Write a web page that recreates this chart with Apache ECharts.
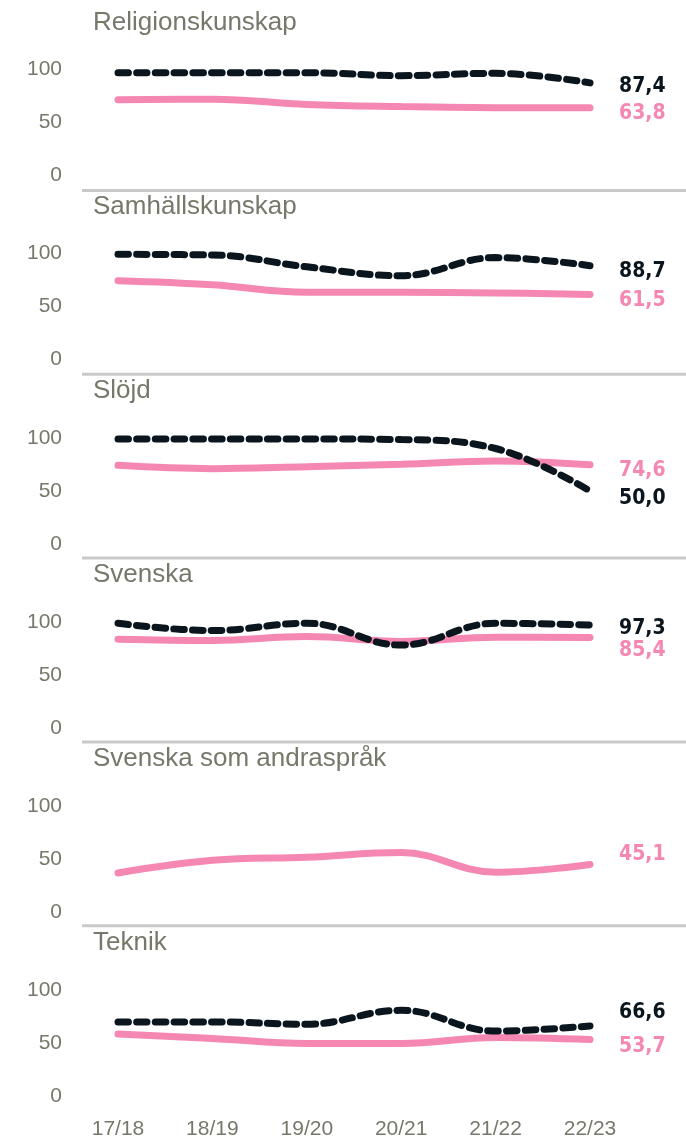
<!DOCTYPE html>
<html>
<head>
<meta charset="utf-8">
<script src="https://cdn.jsdelivr.net/npm/echarts@6/dist/echarts.min.js"></script>
<style>
  html, body { margin: 0; padding: 0; background: #fff; }
  #main { width: 686px; height: 1140px; }
</style>
</head>
<body>
<div id="main"></div>
<script>
// läsår på x-axeln
const years = ['17/18', '18/19', '19/20', '20/21', '21/22', '22/23'];
const subjects = ['Religionskunskap', 'Samhällskunskap', 'Slöjd', 'Svenska', 'Svenska som andraspråk', 'Teknik'];

// rosa linje (heldragen)
const religionPink = [71.5, 72, 67, 65, 64, 63.8];
const samhallPink = [74.5, 70.7, 63.6, 63.6, 63, 61.5];
const slojdPink = [74.1, 71, 72.9, 75.1, 78.2, 74.6];
const svenskaPink = [83.9, 82.7, 86.4, 81.8, 85.8, 85.4];
const svaPink = [37.1, 49, 52, 56.4, 37.8, 45.1];
const teknikPink = [58.9, 54.8, 50.1, 50.1, 55.7, 53.7];

// svart linje (streckad)
const religionBlack = [97, 97, 97, 94.2, 96.4, 87.4];
const samhallBlack = [99.4, 98.8, 87.6, 79.2, 96.3, 88.7];
const slojdBlack = [99, 99, 99, 98.4, 90, 50.0];
const svenskaBlack = [98.9, 92, 98.9, 78.3, 98.9, 97.3];
const svaBlack = [];
const teknikBlack = [70.4, 70.4, 68.2, 81.3, 61.7, 66.6];

const pinkRows = [religionPink, samhallPink, slojdPink, svenskaPink, svaPink, teknikPink];
const blackRows = [religionBlack, samhallBlack, slojdBlack, svenskaBlack, svaBlack, teknikBlack];

/**
 * layout
 */
const PANEL_STEP = 184.2;
const PINK = '#f588b2';
const BLACK = '#0a151e';
const GREY_TEXT = '#76786a';
const FONT = '"Liberation Sans", Arial, sans-serif';
const LABEL_FONT = '"DejaVu Sans Condensed", sans-serif';
// flytta slutetiketterna så de inte krockar
const pinkLabelDy = [6, 6, 6, 13, -10, 7];
const blackLabelDy = [4, 6, 8, 4, 0, -13];

const fmt = v => v.toFixed(1).replace('.', ',');

let grids = [];
let xAxes = [];
let yAxes = [];
let series = [];
let titles = [];
let graphics = [];

subjects.forEach((name, i) => {
  let top = 69.5 + i * PANEL_STEP;
  grids.push({ left: 118, right: 96, top: top, height: 106 });

  xAxes.push({
    type: 'category',
    gridIndex: i,
    data: years,
    boundaryGap: false,
    axisLine: { show: false },
    axisTick: { show: false },
    splitLine: { show: false },
    axisLabel: {
      show: i === subjects.length - 1,
      color: GREY_TEXT,
      fontSize: 21,
      fontFamily: FONT,
      margin: 22
    }
  });

  yAxes.push({
    type: 'value',
    gridIndex: i,
    min: 0,
    max: 100,
    interval: 50,
    axisLine: { show: false },
    axisTick: { show: false },
    splitLine: { show: false },
    axisLabel: {
      color: GREY_TEXT,
      fontSize: 21,
      fontFamily: FONT,
      margin: 56
    }
  });

  titles.push({
    text: name,
    left: 93,
    top: 10 + i * 184,
    padding: 0,
    textStyle: {
      color: GREY_TEXT,
      fontSize: 26,
      fontWeight: 'normal',
      fontFamily: FONT
    }
  });

  // grå avdelare under varje panel utom den sista
  if (i < subjects.length - 1) {
    graphics.push({
      type: 'rect',
      left: 82,
      top: 189 + i * 183.8,
      shape: { width: 604, height: 3 },
      style: { fill: '#c9c9c9' }
    });
  }

  series.push({
    type: 'line',
    xAxisIndex: i,
    yAxisIndex: i,
    data: pinkRows[i],
    smooth: 0.4,
    symbol: 'none',
    lineStyle: { color: PINK, width: 7, cap: 'round' },
    endLabel: {
      show: true,
      distance: 29,
      offset: [0, pinkLabelDy[i]],
      formatter: p => fmt(p.value),
      color: PINK,
      fontSize: 21,
      fontWeight: 'bold',
      fontFamily: LABEL_FONT
    }
  });

  if (blackRows[i].length) {
    series.push({
      type: 'line',
      xAxisIndex: i,
      yAxisIndex: i,
      data: blackRows[i],
      smooth: 0.4,
      symbol: 'none',
      z: 3,
      lineStyle: { color: BLACK, width: 7, type: [10.5, 8.2], cap: 'round' },
      endLabel: {
        show: true,
        distance: 29,
        offset: [0, blackLabelDy[i]],
        formatter: p => fmt(p.value),
        color: BLACK,
        fontSize: 21,
        fontWeight: 'bold',
        fontFamily: LABEL_FONT
      }
    });
  }
});

let mainChart = echarts.init(document.getElementById('main'));
mainChart.setOption({
  animation: false,
  backgroundColor: '#fff',
  title: titles,
  grid: grids,
  xAxis: xAxes,
  yAxis: yAxes,
  graphic: graphics,
  series: series
});
</script>
</body>
</html>
